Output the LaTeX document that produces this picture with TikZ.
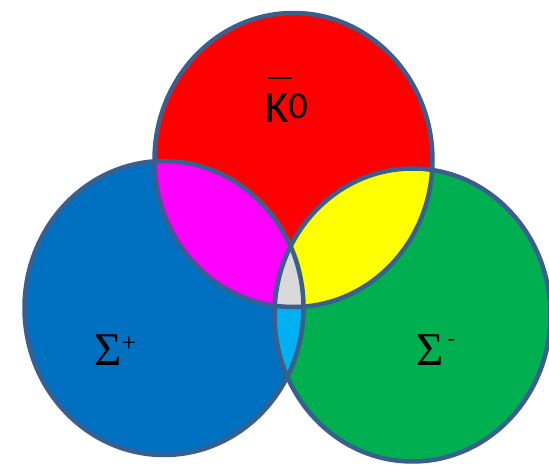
\documentclass[tikz,border=0pt]{standalone}
\usepackage{fontspec}
\newfontfamily\kfont{Carlito}
\newfontfamily\sgfont{Liberation Serif}
\definecolor{cred}{HTML}{FF0000}
\definecolor{cblue}{HTML}{0070C0}
\definecolor{cgreen}{HTML}{00B050}
\definecolor{cmag}{HTML}{FF00FF}
\definecolor{cyel}{HTML}{FFFF00}
\definecolor{ccyan}{HTML}{00B0F0}
\definecolor{cgray}{HTML}{D9D9D9}
\definecolor{cline}{HTML}{3A5F8F}
\begin{document}
\begin{tikzpicture}[x=1pt,y=-1pt,
  outline/.style={draw=cline,line width=4.5pt},
  lbl/.style={inner sep=0pt,anchor=base west,text=black},
  sig/.style={lbl,font=\sgfont\fontsize{47}{47}\selectfont},
  supr/.style={inner sep=0pt,anchor=center,text=black}]
\useasboundingbox (0,0) rectangle (549,465);
\clip (0,0) rectangle (549,465);
\def\RedE{(293.5,160) ellipse [x radius=139, y radius=147]}
\def\BlueE{(164,308) ellipse [x radius=139.5, y radius=147]}
\def\GreenE{(412.5,315) ellipse [x radius=138, y radius=146.5]}
\fill[cred] \RedE;
\fill[cblue] \BlueE;
\fill[cgreen] \GreenE;
\begin{scope}\clip \RedE; \fill[cmag] \BlueE; \end{scope}
\begin{scope}\clip \RedE; \fill[cyel] \GreenE; \end{scope}
\begin{scope}\clip \BlueE; \fill[ccyan] \GreenE; \end{scope}
\begin{scope}\clip \RedE; \clip \BlueE; \fill[cgray] \GreenE; \end{scope}
\draw[outline] \RedE;
\draw[outline] \BlueE;
\draw[outline] \GreenE;
\node[lbl] (k0) at (265,123) {\kfont\fontsize{45}{45}\selectfont\makebox[0pt][l]{\hspace{3pt}\raisebox{44pt}{\rule{24pt}{2pt}}}K\raisebox{4pt}{\fontsize{38}{38}\selectfont 0}};
\node[sig] (sp) at (94,365) {\symbol{"03A3}};
\node[supr,font=\sgfont\fontsize{26}{26}\selectfont] (spp) at (129,344) {+};
\node[sig] (sm) at (416,365) {\symbol{"03A3}};
\node[supr,font=\sgfont\fontsize{22}{22}\selectfont] (smm) at (451.5,342) {-};
\end{tikzpicture}
\end{document}
